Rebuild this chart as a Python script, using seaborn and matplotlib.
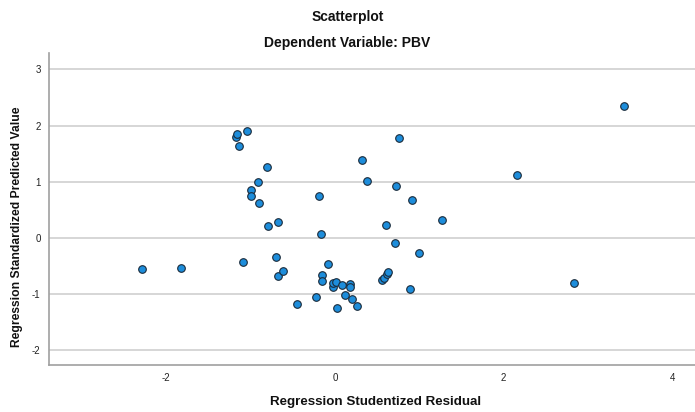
import pandas as pd
import seaborn as sns
import matplotlib.pyplot as plt

# studentized residual (x) vs standardized predicted value (y)
residual = [-2.29, -1.82, -1.17, -1.16, -1.14, -1.04, -1.09, -0.81, -0.91, -1.00,
            -0.99, -0.90, -0.79, -0.68, -0.70, -0.67, -0.62, -0.45, -0.19, -0.17,
            -0.22, -0.15, -0.15, -0.08, -0.02, -0.02, 0.01, 0.02, 0.09, 0.12,
            0.18, 0.18, 0.20, 0.26, 0.32, 0.38, 0.56, 0.58, 0.61, 0.62,
            0.63, 0.71, 0.73, 0.76, 0.89, 0.92, 1.00, 1.27, 2.16, 2.83, 3.43]
predicted = [-0.55, -0.54, 1.79, 1.84, 1.64, 1.90, -0.43, 1.26, 0.99, 0.85,
             0.75, 0.62, 0.21, 0.28, -0.34, -0.68, -0.59, -1.18, 0.75, 0.07,
             -1.06, -0.66, -0.78, -0.46, -0.87, -0.81, -0.79, -1.25, -0.85, -1.02,
             -0.82, -0.88, -1.10, -1.22, 1.39, 1.01, -0.75, -0.72, 0.23, -0.65,
             -0.61, -0.10, 0.93, 1.77, -0.91, 0.67, -0.27, 0.31, 1.12, -0.80, 2.34]

df = pd.DataFrame({"Residual": residual, "Predicted": predicted})

sns.set_style("white")
plt.rcParams['font.family'] = ['Liberation Sans', 'DejaVu Sans']
plt.rcParams['axes.unicode_minus'] = False

fig = plt.figure(figsize=(6.95, 4.12), dpi=100)
ax = fig.add_axes([0.0705, 0.114, 0.9295, 0.757])

sns.scatterplot(data=df, x="Residual", y="Predicted", ax=ax, s=30,
                color="#1d8ddb", edgecolor="#1a2a3a", linewidth=0.8, zorder=3)

ax.set_xlim(-3.39, 4.27)
ax.set_ylim(-2.27, 3.29)
ax.set_xticks([-2, 0, 2, 4])
ax.set_yticks([-2, -1, 0, 1, 2, 3])
ax.yaxis.grid(True, color="#d0d0d0", linewidth=1.2)
ax.xaxis.grid(False)
ax.tick_params(length=0, labelsize=7, colors="#222222", pad=6)

for side in ["top", "right"]:
    ax.spines[side].set_visible(False)
for side in ["left", "bottom"]:
    ax.spines[side].set_color("#a0a0a0")
    ax.spines[side].set_linewidth(1.2)

ax.set_xlabel("Regression Studentized Residual", fontsize=9.6, fontweight="bold", color="#111111")
ax.set_ylabel("Regression Standardized Predicted Value", fontsize=8.7, fontweight="bold", color="#111111")
ax.xaxis.set_label_coords(0.505, -0.1)
ax.yaxis.set_label_coords(-0.04, 0.444)

fig.text(0.5, 0.958, "Scatterplot", ha="center", va="center", fontsize=10, fontweight="bold", color="#111111")
fig.text(0.5, 0.895, "Dependent Variable: PBV", ha="center", va="center", fontsize=10, fontweight="bold", color="#111111")

fig.savefig("out.png", dpi=100)
